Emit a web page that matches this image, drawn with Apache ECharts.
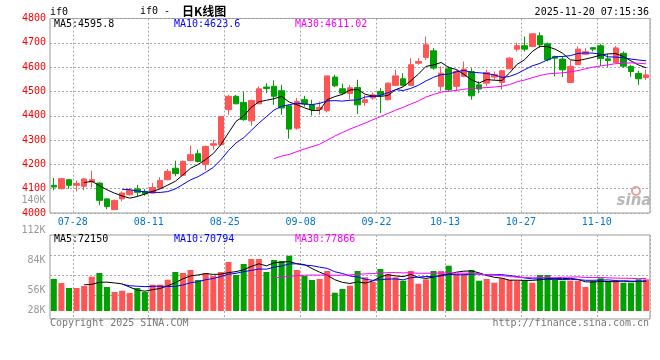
<!DOCTYPE html>
<html><head><meta charset="utf-8">
<script src="https://cdn.jsdelivr.net/npm/echarts@6/dist/echarts.min.js"></script>
<style>html,body{margin:0;padding:0;background:#fff}#c{width:660px;height:360px}</style>
</head><body><div id="c"></div>
<script>
const dates = ['07-23','07-24','07-25','07-28','07-29','07-30','07-31','08-01','08-04','08-05','08-06','08-07','08-08',
'08-11','08-12','08-13','08-14','08-15','08-18','08-19','08-20','08-21','08-22','08-25','08-26','08-27','08-28','08-29',
'09-01','09-02','09-03','09-04','09-05','09-08','09-09','09-10','09-11','09-12','09-15','09-16','09-17','09-18','09-19',
'09-22','09-23','09-24','09-25','09-26','09-29','09-30','10-09','10-10','10-13','10-14','10-15','10-16','10-17',
'10-20','10-21','10-22','10-23','10-24','10-27','10-28','10-29','10-30','10-31','11-03','11-04','11-05','11-06','11-07',
'11-10','11-11','11-12','11-13','11-14','11-17','11-18'];
const opens  = [4114,4100,4137,4114,4110,4127,4123,4058,4014,4058,4075,4099,4089,4082,4103,4137,4184,4155,4216,4244,
4199,4279,4281,4425,4480,4455,4379,4449,4518,4521,4503,4441,4349,4466,4445,4427,4421,4559,4511,4492,
4516,4455,4473,4500,4466,4525,4552,4525,4616,4640,4667,4521,4593,4521,4562,4582,4527,4534,4559,4537,
4593,4674,4688,4685,4729,4696,4644,4633,4537,4610,4653,4680,4688,4634,4619,4657,4603,4574,4557];
const closes = [4107,4141,4114,4121,4140,4137,4052,4027,4052,4082,4093,4085,4079,4105,4134,4171,4162,4212,4240,4212,
4274,4285,4397,4480,4449,4384,4463,4511,4512,4480,4432,4345,4459,4448,4425,4434,4564,4523,4493,4515,
4445,4466,4486,4486,4534,4564,4525,4610,4623,4692,4596,4575,4507,4582,4592,4482,4510,4578,4569,4585,
4637,4688,4674,4737,4692,4630,4637,4589,4603,4674,4663,4674,4635,4627,4679,4604,4582,4552,4568];
const lows   = [4093,4097,4100,4089,4093,4105,4032,4016,4014,4048,4071,4068,4071,4079,4100,4134,4151,4151,4212,4208,
4175,4260,4277,4404,4449,4379,4359,4449,4493,4445,4404,4306,4343,4438,4401,4404,4414,4518,4486,4468,
4407,4441,4466,4411,4463,4521,4521,4521,4610,4630,4589,4500,4500,4500,4559,4466,4493,4521,4548,4507,
4592,4664,4664,4682,4678,4623,4562,4559,4534,4610,4651,4664,4605,4600,4616,4598,4560,4527,4547];
const highs  = [4144,4145,4138,4134,4144,4174,4126,4060,4055,4089,4103,4116,4099,4123,4147,4181,4215,4216,4277,4260,
4277,4301,4397,4486,4486,4500,4466,4521,4534,4545,4527,4445,4473,4482,4466,4459,4564,4569,4532,4527,
4548,4486,4496,4514,4537,4589,4575,4637,4637,4726,4678,4603,4603,4589,4623,4596,4541,4589,4582,4589,
4641,4701,4726,4737,4743,4701,4647,4644,4627,4685,4678,4682,4696,4653,4687,4665,4610,4585,4589];
const volumes = [76800,67200,55200,55200,60000,82300,91200,57600,45600,48700,43200,55200,45600,63100,63100,75100,93600,91200,98400,74400,
91200,84000,93600,117600,86400,112800,124800,124800,93600,122400,120000,132700,98400,84000,74400,76800,96000,43900,52800,60700,
96000,80900,70300,100800,88100,80900,72700,96000,65500,76100,96000,96000,108700,88800,88800,98400,72700,76800,67900,78500,
74400,72000,74400,67900,86400,86400,74400,72700,72700,72700,57600,72000,78500,72000,72000,67900,67900,76100,76100];
const tickDates = ['07-28','08-11','08-25','09-08','09-22','10-13','10-27','11-10'];
const priceLegend = ['MA5:4595.8','MA10:4623.6','MA30:4611.02'];
const volLegend = ['MA5:72150','MA10:70794','MA30:77866'];
const volTickLabels = ['140K','112K','84K','56K','28K'];

const RED = '#ff5555', GREEN = '#00a000';
const MONO = 'DejaVu Sans Mono';
const labelIdx = new Set(tickDates.map(d => dates.indexOf(d)));
const showAt = i => labelIdx.has(i);

function ma(arr, n) {
  return arr.map((v, i) => {
    if (i < n - 1) return '-';
    let s = 0; for (let k = i - n + 1; k <= i; k++) s += arr[k];
    return +(s / n).toFixed(2);
  });
}
const kData = opens.map((o, i) => [o, closes[i], lows[i], highs[i]]);
const volData = volumes.map((v, i) => ({ value: v, itemStyle: { color: closes[i] >= opens[i] ? RED : GREEN } }));

const gridLine = { show: true, lineStyle: { color: '#aaa', type: [2, 2], width: 1 } };
const chart = echarts.init(document.getElementById('c'), null, { renderer: 'canvas' });

const volPos = [200.5, 230.5, 260, 290.5, 310.5];
const graphic = [
  { type: 'text', x: 50, y: 12, style: { text: 'if0', font: '10px ' + MONO, fill: '#000', verticalAlign: 'middle' } },
  { type: 'text', x: 140, y: 11.5, style: { text: 'if0 -', font: '10px ' + MONO, fill: '#000', verticalAlign: 'middle' } },
  { type: 'text', x: 182, y: 11, style: { text: '日K线图', font: 'bold 12px "Noto Sans CJK SC"', fill: '#000', verticalAlign: 'middle' } },
  { type: 'text', x: 649, y: 12, style: { text: '2025-11-20 07:15:36', font: '10px ' + MONO, fill: '#000', align: 'right', verticalAlign: 'middle' } },
  { type: 'text', x: 54, y: 24, style: { text: priceLegend[0], font: '10px ' + MONO, fill: '#000', verticalAlign: 'middle' } },
  { type: 'text', x: 174, y: 24, style: { text: priceLegend[1], font: '10px ' + MONO, fill: '#0000ff', verticalAlign: 'middle' } },
  { type: 'text', x: 295, y: 24, style: { text: priceLegend[2], font: '10px ' + MONO, fill: '#ff00ff', verticalAlign: 'middle' } },
  { type: 'text', x: 54, y: 239, style: { text: volLegend[0], font: '10px ' + MONO, fill: '#000', verticalAlign: 'middle' } },
  { type: 'text', x: 174, y: 239, style: { text: volLegend[1], font: '10px ' + MONO, fill: '#0000ff', verticalAlign: 'middle' } },
  { type: 'text', x: 295, y: 239, style: { text: volLegend[2], font: '10px ' + MONO, fill: '#ff00ff', verticalAlign: 'middle' } },
  { type: 'text', x: 50, y: 323.5, style: { text: 'Copyright 2025 SINA.COM', font: '10px ' + MONO, fill: '#777', verticalAlign: 'middle' } },
  { type: 'text', x: 649, y: 323.5, style: { text: 'http://finance.sina.com.cn', font: '10px ' + MONO, fill: '#777', align: 'right', verticalAlign: 'middle' } },
  { type: 'circle', shape: { cx: 636, cy: 191, r: 4 }, style: { fill: 'none', stroke: '#e8a0a0', lineWidth: 2 } },
  { type: 'text', x: 634, y: 201, style: { text: 'sina', font: 'italic bold 15px "DejaVu Sans"', fill: '#b8b8b8', align: 'center', verticalAlign: 'middle' } }
];
volTickLabels.forEach((t, i) => graphic.push({ type: 'text', x: 45.5, y: volPos[i], style: { text: t, font: '10px ' + MONO, fill: '#999', align: 'right', verticalAlign: 'middle' } }));

chart.setOption({
  animation: false,
  backgroundColor: '#fff',
  grid: [
    { left: 50, top: 18.5, width: 600, height: 194.5, show: true, borderColor: '#999', borderWidth: 1 },
    { left: 50, top: 235, width: 600, height: 76 },
    { left: 50, top: 235, width: 600, height: 84, show: true, borderColor: '#999', borderWidth: 1 }
  ],
  xAxis: [
    { type: 'category', gridIndex: 0, data: dates, boundaryGap: true,
      axisLine: { show: false }, axisTick: { show: false },
      axisLabel: { interval: showAt, color: '#0077cc', fontFamily: MONO, fontSize: 10, margin: 4, padding: [0, 7.6, 0, 0] },
      splitLine: Object.assign({ interval: showAt }, gridLine) },
    { type: 'category', gridIndex: 1, data: dates, boundaryGap: true, show: false },
    { type: 'category', gridIndex: 2, data: dates, boundaryGap: true,
      axisLine: { show: false }, axisTick: { show: false }, axisLabel: { show: false },
      splitLine: Object.assign({ interval: showAt }, gridLine) }
  ],
  yAxis: [
    { type: 'value', gridIndex: 0, min: 4000, max: 4800, interval: 100,
      axisLine: { show: false }, axisTick: { show: false },
      axisLabel: { color: '#ff0000', fontFamily: MONO, fontSize: 10, margin: 4, padding: [0, 0, 3, 0], formatter: v => String(v) },
      splitLine: gridLine },
    { type: 'value', gridIndex: 1, min: 0, max: 182400, show: false },
    { type: 'value', gridIndex: 1, min: 0, max: 76, interval: 20, inverse: true,
      axisLine: { show: false }, axisTick: { show: false }, axisLabel: { show: false },
      splitLine: Object.assign({ showMaxLine: false, showMinLine: false }, gridLine) },
    { type: 'value', gridIndex: 2, show: false }
  ],
  series: [
    { type: 'candlestick', xAxisIndex: 0, yAxisIndex: 0, data: kData, barWidth: 6,
      itemStyle: { color: RED, color0: GREEN, borderColor: RED, borderColor0: GREEN, borderWidth: 1 } },
    { type: 'line', xAxisIndex: 0, yAxisIndex: 0, data: ma(closes, 5), showSymbol: false, lineStyle: { color: '#000', width: 1 } },
    { type: 'line', xAxisIndex: 0, yAxisIndex: 0, data: ma(closes, 10), showSymbol: false, lineStyle: { color: '#0000ff', width: 1 } },
    { type: 'line', xAxisIndex: 0, yAxisIndex: 0, data: ma(closes, 30), showSymbol: false, lineStyle: { color: '#ff00ff', width: 1 } },
    { type: 'bar', xAxisIndex: 1, yAxisIndex: 1, data: volData, barWidth: 6 },
    { type: 'line', xAxisIndex: 1, yAxisIndex: 1, data: ma(volumes, 5), showSymbol: false, lineStyle: { color: '#000', width: 1 } },
    { type: 'line', xAxisIndex: 1, yAxisIndex: 1, data: ma(volumes, 10), showSymbol: false, lineStyle: { color: '#0000ff', width: 1 } },
    { type: 'line', xAxisIndex: 1, yAxisIndex: 1, data: ma(volumes, 30), showSymbol: false, lineStyle: { color: '#ff00ff', width: 1 } }
  ],
  graphic: graphic
});
</script></body></html>
